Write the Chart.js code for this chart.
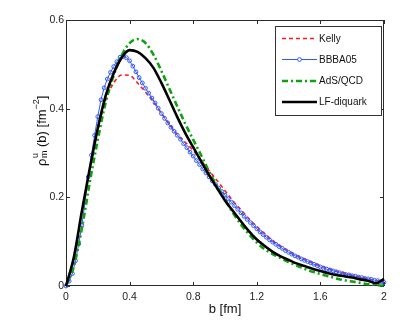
<!DOCTYPE html>
<html>
<head>
<meta charset="utf-8">
<script src="https://cdn.jsdelivr.net/npm/chart.js@4.4.0/dist/chart.umd.min.js"></script>
<style>
  html, body { margin: 0; padding: 0; background: #fff; }
</style>
</head>
<body>
<canvas id="c" width="409" height="327"></canvas>
<script>
// b grid for the smooth curves (fm)
const bCoarse = [0, 0.05, 0.1, 0.15, 0.2, 0.25, 0.3, 0.35, 0.4, 0.45,
  0.5, 0.55, 0.6, 0.65, 0.7, 0.75, 0.8, 0.85, 0.9, 0.95,
  1.0, 1.05, 1.1, 1.15, 1.2, 1.25, 1.3, 1.35, 1.4, 1.45,
  1.5, 1.55, 1.6, 1.65, 1.7, 1.75, 1.8, 1.85, 1.9, 1.95, 2.0];

const kelly = [0, 0.06, 0.165, 0.265, 0.35, 0.42, 0.458, 0.476, 0.475, 0.458,
  0.437, 0.416, 0.39, 0.365, 0.342, 0.324, 0.306, 0.283, 0.26, 0.238,
  0.215, 0.192, 0.172, 0.152, 0.134, 0.118, 0.102, 0.09, 0.079, 0.069,
  0.061, 0.053, 0.046, 0.04, 0.034, 0.029, 0.024, 0.02, 0.016, 0.012, 0.009];

const adsQcd = [0, 0.045, 0.13, 0.235, 0.33, 0.415, 0.475, 0.52, 0.548, 0.557,
  0.548, 0.522, 0.485, 0.445, 0.405, 0.366, 0.33, 0.295, 0.258, 0.225,
  0.195, 0.165, 0.139, 0.117, 0.098, 0.083, 0.072, 0.063, 0.054, 0.046,
  0.039, 0.032, 0.027, 0.022, 0.017, 0.013, 0.01, 0.007, 0.004, 0.002, 0.001];

const lfDiquark = [0, 0.066, 0.169, 0.266, 0.356, 0.43, 0.48, 0.515, 0.532, 0.528,
  0.514, 0.492, 0.458, 0.42, 0.381, 0.345, 0.313, 0.281, 0.25, 0.221,
  0.193, 0.169, 0.146, 0.124, 0.105, 0.09, 0.077, 0.067, 0.059, 0.051,
  0.045, 0.039, 0.034, 0.029, 0.025, 0.022, 0.019, 0.015, 0.012, 0.006, 0.016];

// BBBA05 is plotted with markers on a finer grid
const bFine = [0, 0.02, 0.04, 0.06, 0.08, 0.1, 0.12, 0.14, 0.16, 0.18,
  0.2, 0.22, 0.24, 0.26, 0.28, 0.3, 0.32, 0.34, 0.36, 0.38,
  0.4, 0.42, 0.44, 0.46, 0.48, 0.5, 0.52, 0.54, 0.56, 0.58,
  0.6, 0.62, 0.64, 0.66, 0.68, 0.7, 0.72, 0.74, 0.76, 0.78,
  0.8, 0.82, 0.84, 0.86, 0.88, 0.9, 0.92, 0.94, 0.96, 0.98,
  1.0, 1.02, 1.04, 1.06, 1.08, 1.1, 1.12, 1.14, 1.16, 1.18,
  1.2, 1.22, 1.24, 1.26, 1.28, 1.3, 1.32, 1.34, 1.36, 1.38,
  1.4, 1.42, 1.44, 1.46, 1.48, 1.5, 1.52, 1.54, 1.56, 1.58,
  1.6, 1.62, 1.64, 1.66, 1.68, 1.7, 1.72, 1.74, 1.76, 1.78,
  1.8, 1.82, 1.84, 1.86, 1.88, 1.9, 1.92, 1.94, 1.96, 1.98, 2.0];

const bbba05 = [0, 0.011, 0.028, 0.057, 0.095, 0.137, 0.19, 0.246, 0.295, 0.34,
  0.382, 0.42, 0.447, 0.467, 0.482, 0.495, 0.506, 0.516, 0.518, 0.515,
  0.508, 0.496, 0.483, 0.47, 0.458, 0.446, 0.435, 0.424, 0.413, 0.401,
  0.389, 0.378, 0.368, 0.358, 0.349, 0.34, 0.331, 0.321, 0.312, 0.302,
  0.293, 0.283, 0.274, 0.264, 0.255, 0.246, 0.237, 0.229, 0.221, 0.213,
  0.205, 0.197, 0.189, 0.181, 0.173, 0.165, 0.157, 0.15, 0.143, 0.136,
  0.129, 0.122, 0.116, 0.11, 0.104, 0.099, 0.094, 0.089, 0.085, 0.08,
  0.076, 0.072, 0.068, 0.065, 0.061, 0.058, 0.055, 0.052, 0.049, 0.046,
  0.043, 0.04, 0.038, 0.036, 0.034, 0.032, 0.03, 0.028, 0.026, 0.025,
  0.023, 0.022, 0.02, 0.019, 0.017, 0.016, 0.015, 0.013, 0.012, 0.01, 0.008];

const xTicks = [0, 0.4, 0.8, 1.2, 1.6, 2];
const yTicks = [0, 0.2, 0.4, 0.6];

const pts = (xs, ys) => xs.map((x, i) => ({ x: x, y: ys[i] }));

const SANS = "'Liberation Sans', Arial, sans-serif";
const NARROW = "'Liberation Sans Narrow', 'Liberation Sans', Arial, sans-serif";

// box + inward tick marks, matlab style
const frame = {
  id: 'frame',
  beforeDatasetsDraw(chart) {
    const { ctx, chartArea: a, scales: { x, y } } = chart;
    ctx.save();
    ctx.strokeStyle = '#2a2a2a';
    ctx.lineWidth = 1;
    ctx.strokeRect(a.left + 0.5, a.top + 0.5, a.right - a.left - 1, a.bottom - a.top - 1);
    ctx.beginPath();
    xTicks.forEach(v => {
      const px = Math.round(x.getPixelForValue(v)) + 0.5;
      ctx.moveTo(px, a.bottom); ctx.lineTo(px, a.bottom - 4);
      ctx.moveTo(px, a.top); ctx.lineTo(px, a.top + 4);
    });
    yTicks.forEach(v => {
      const py = Math.round(y.getPixelForValue(v)) + 0.5;
      ctx.moveTo(a.left, py); ctx.lineTo(a.left + 4, py);
      ctx.moveTo(a.right, py); ctx.lineTo(a.right - 4, py);
    });
    ctx.stroke();
    ctx.restore();
  }
};

// legend box in the upper right corner
const boxLegend = {
  id: 'boxLegend',
  afterDraw(chart) {
    const ctx = chart.ctx;
    const L = 275, T = 26, R = 381, B = 115;
    const rows = [38.5, 59.5, 81, 102];
    ctx.save();
    ctx.fillStyle = '#fff';
    ctx.fillRect(L, T, R - L, B - T);
    ctx.strokeStyle = '#333';
    ctx.lineWidth = 1;
    ctx.strokeRect(L + 0.5, T + 0.5, R - L, B - T);
    chart.data.datasets.forEach((ds, i) => {
      const yy = rows[i];
      ctx.strokeStyle = ds.borderColor;
      ctx.lineWidth = ds.borderWidth;
      ctx.setLineDash(ds.borderDash || []);
      ctx.beginPath();
      ctx.moveTo(282, yy); ctx.lineTo(317, yy);
      ctx.stroke();
      ctx.setLineDash([]);
      if (ds.pointRadius > 0) {
        ctx.fillStyle = '#fff';
        ctx.beginPath();
        ctx.arc(299.5, yy, ds.pointRadius, 0, Math.PI * 2);
        ctx.fill(); ctx.stroke();
      }
      ctx.fillStyle = '#111';
      ctx.font = '10px ' + SANS;
      ctx.textBaseline = 'middle';
      ctx.fillText(ds.label, 319, yy + 0.5);
    });
    ctx.restore();
  }
};

// rotated y title with super/subscripts
const yTitle = {
  id: 'yTitle',
  afterDraw(chart) {
    const ctx = chart.ctx;
    const big = '13px ' + SANS, small = '9px ' + SANS;
    ctx.save();
    ctx.translate(45.5, 131);
    ctx.rotate(-Math.PI / 2);
    ctx.fillStyle = '#111';
    ctx.textBaseline = 'alphabetic';
    ctx.font = big;
    const wRho = ctx.measureText('\u03C1').width;
    const wMid = ctx.measureText(' (b) [fm').width;
    const wEnd = ctx.measureText(']').width;
    ctx.font = small;
    const wUM = Math.max(ctx.measureText('u').width, ctx.measureText('m').width);
    const wExp = ctx.measureText('\u22122').width;
    let x0 = -(wRho + wUM + wMid + wExp + wEnd) / 2;
    ctx.font = big;
    ctx.fillText('\u03C1', x0, 0); x0 += wRho + 0.5;
    ctx.font = small;
    ctx.fillText('u', x0, -8);
    ctx.fillText('m', x0, 1.5); x0 += wUM;
    ctx.font = big;
    ctx.fillText(' (b) [fm', x0, 0); x0 += wMid;
    ctx.font = small;
    ctx.fillText('\u22122', x0, -7); x0 += wExp;
    ctx.font = big;
    ctx.fillText(']', x0, 0);
    ctx.restore();
  }
};

new Chart(document.getElementById('c'), {
  type: 'line',
  data: {
    datasets: [
      {
        label: 'Kelly', data: pts(bCoarse, kelly),
        borderColor: '#ff1a1a', borderWidth: 1.6, borderDash: [4, 3],
        pointRadius: 0, cubicInterpolationMode: 'monotone', order: 3, clip: false
      },
      {
        label: 'BBBA05', data: pts(bFine, bbba05),
        borderColor: '#3058ff', borderWidth: 1, pointRadius: 1.9,
        pointBorderWidth: 1, pointBackgroundColor: 'rgba(255,255,255,0)',
        pointBorderColor: '#3058ff', tension: 0, order: 2, clip: false
      },
      {
        label: 'AdS/QCD', data: pts(bCoarse, adsQcd),
        borderColor: '#10a010', borderWidth: 2.6, borderDash: [6, 3, 2, 3],
        pointRadius: 0, cubicInterpolationMode: 'monotone', order: 1, clip: false
      },
      {
        label: 'LF-diquark', data: pts(bCoarse, lfDiquark),
        borderColor: '#000', borderWidth: 2.6,
        pointRadius: 0, cubicInterpolationMode: 'monotone', order: 0, clip: false
      }
    ]
  },
  options: {
    responsive: false,
    animation: false,
    layout: { padding: { left: 0, right: 25, top: 20, bottom: 0 } },
    plugins: { legend: { display: false }, tooltip: { enabled: false } },
    scales: {
      x: {
        type: 'linear', min: 0, max: 2,
        afterFit(s) { s.height = 41; },
        grid: { display: false, drawTicks: false },
        border: { display: false },
        afterBuildTicks(s) { s.ticks = xTicks.map(v => ({ value: v })); },
        ticks: {
          padding: 5, maxRotation: 0, color: '#222',
          font: { family: NARROW, size: 10.5 },
          callback: v => String(Math.round(v * 10) / 10)
        },
        title: {
          display: true, text: 'b [fm]', color: '#111',
          font: { family: SANS, size: 13 }, padding: { top: 0, bottom: 10 }
        }
      },
      y: {
        min: 0, max: 0.6,
        afterFit(s) { s.width = 66; },
        grid: { display: false, drawTicks: false },
        border: { display: false },
        afterBuildTicks(s) { s.ticks = yTicks.map(v => ({ value: v })); },
        ticks: {
          padding: 2, color: '#222',
          font: { family: NARROW, size: 10.5 },
          callback: v => String(Math.round(v * 10) / 10)
        }
      }
    }
  },
  plugins: [frame, boxLegend, yTitle]
});
</script>
</body>
</html>
